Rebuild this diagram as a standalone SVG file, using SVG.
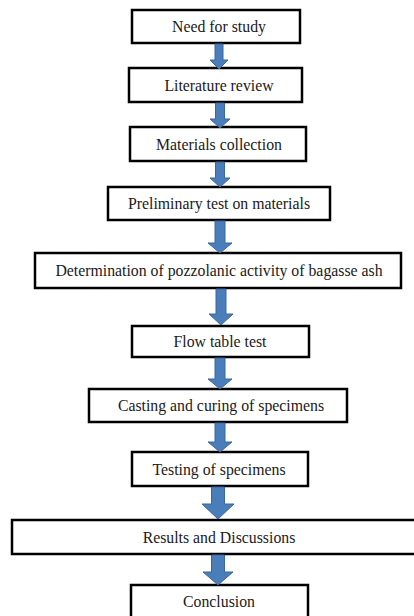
<svg xmlns="http://www.w3.org/2000/svg" width="414" height="616" viewBox="0 0 414 616">
<style>
.box{fill:#fff;stroke:#000;stroke-width:2.5}
.lbl{font-family:"Liberation Serif","Times New Roman",serif;font-size:15.8px;fill:#1a1a1a;text-anchor:middle}
.arr{fill:#4a7ebb;stroke:#3a679c;stroke-width:1}
</style>
<rect width="414" height="616" fill="#fff"/>
<g id="n1"><rect class="box" x="132" y="10" width="168" height="33"/><text class="lbl" x="219" y="32">Need for study</text></g>
<g id="n2"><rect class="box" x="129" y="68" width="173" height="34"/><text class="lbl" x="219" y="90.5">Literature review</text></g>
<g id="n3"><rect class="box" x="130" y="127" width="176" height="34"/><text class="lbl" x="219" y="149.5">Materials collection</text></g>
<g id="n4"><rect class="box" x="108" y="187" width="222" height="33"/><text class="lbl" x="219" y="209">Preliminary test on materials</text></g>
<g id="n5"><rect class="box" x="35" y="253" width="366" height="35"/><text class="lbl" x="219" y="276">Determination of pozzolanic activity of bagasse ash</text></g>
<g id="n6"><rect class="box" x="132" y="326" width="177" height="31"/><text class="lbl" x="220" y="347">Flow table test</text></g>
<g id="n7"><rect class="box" x="89" y="389" width="258" height="33"/><text class="lbl" x="221" y="411">Casting and curing of specimens</text></g>
<g id="n8"><rect class="box" x="132" y="452" width="176" height="34"/><text class="lbl" x="219" y="474.5">Testing of specimens</text></g>
<g id="n9"><rect class="box" x="12" y="520" width="412" height="34"/><text class="lbl" x="219" y="542.5">Results and Discussions</text></g>
<g id="n10"><rect class="box" x="131" y="585" width="177" height="40"/><text class="lbl" x="219" y="606.5">Conclusion</text></g>
<g id="connectors">
<polygon class="arr" points="215,44 223,44 223,60 228,60 219,69 210,60 215,60"/>
<polygon class="arr" points="215.5,103 224.5,103 224.5,119 230,119 220,128 210,119 215.5,119"/>
<polygon class="arr" points="215.5,162 224.5,162 224.5,178 230,178 220,187 210,178 215.5,178"/>
<polygon class="arr" points="215,221 225,221 225,243 232,243 220,253 208,243 215,243"/>
<polygon class="arr" points="216,289 226,289 226,314 233,314 221,325 209,314 216,314"/>
<polygon class="arr" points="215,358 225,358 225,379 232,379 220,389 208,379 215,379"/>
<polygon class="arr" points="215,423 225,423 225,442 232,442 220,452 208,442 215,442"/>
<polygon class="arr" points="211.5,487 224.5,487 224.5,504 234,504 218,519 202,504 211.5,504"/>
<polygon class="arr" points="211.5,555 224.5,555 224.5,572 233,572 218,585 203,572 211.5,572"/>
</g>
</svg>
